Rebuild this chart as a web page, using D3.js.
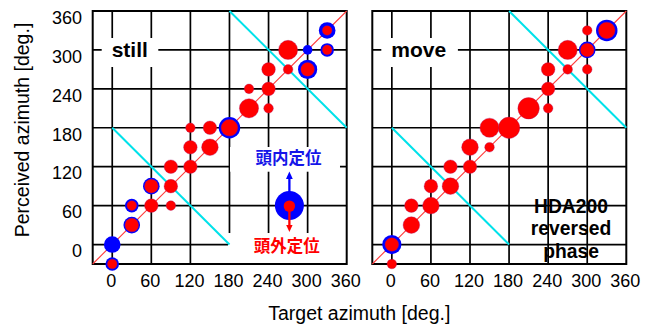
<!DOCTYPE html>
<html>
<head>
<meta charset="utf-8">
<script src="https://cdn.jsdelivr.net/npm/d3@7"></script>
<style>
  html, body { margin: 0; padding: 0; background: #fff; }
  svg { display: block; }
</style>
</head>
<body>
<svg id="chart" width="652" height="329"></svg>
<script>
// ---------- data ----------
// [target azimuth, perceived azimuth, out-of-head count, in-head count]
const stillTarget    = [0, 0, 30, 30, 60, 60, 90, 90, 90, 120, 120, 120, 150, 150, 180, 210, 210, 240, 240, 240, 270, 270, 300, 300, 330, 330];
const stillPerceived = [0, -30, 30, 60, 60, 90, 60, 90, 120, 120, 150, 180, 150, 180, 180, 210, 240, 210, 240, 270, 270, 300, 300, 270, 300, 330];
const stillOut       = [0, 1, 2, 1, 2, 2, 1, 2, 2, 2, 2, 1, 3, 2, 3, 4, 1, 1, 2, 2, 1, 4, 0, 2, 1, 1];
const stillIn        = [3, 1, 1, 1, 0, 1, 0, 0, 0, 0, 0, 0, 0, 0, 2, 0, 0, 0, 0, 0, 0, 0, 1, 2, 1, 2];

const moveTarget     = [0, 0, 30, 30, 60, 60, 90, 90, 120, 120, 150, 150, 180, 210, 240, 240, 240, 270, 270, 300, 300, 300, 330];
const movePerceived  = [0, -30, 30, 60, 60, 90, 90, 120, 120, 150, 150, 180, 180, 210, 210, 240, 270, 270, 300, 270, 300, 330, 330];
const moveOut        = [2, 1, 3, 2, 3, 2, 3, 2, 2, 3, 1, 4, 5, 5, 1, 2, 2, 1, 4, 1, 2, 1, 3];
const moveIn         = [2, 0, 0, 0, 0, 0, 0, 0, 0, 0, 0, 0, 0, 0, 0, 0, 0, 0, 0, 0, 1, 0, 2];

const tickValues = [0, 60, 120, 180, 240, 300, 360];
const gridValues = [0, 60, 120, 180, 240, 300];
const axisDomain = [-30, 360];

const panelNames = ["still", "move"];
const xTitle = "Target azimuth [deg.]";
const yTitle = "Perceived azimuth [deg.]";
const legendIn = "頭内定位";
const legendOut = "頭外定位";
const noteLines = ["HDA200", "reversed", "phase"];

// ---------- layout ----------
const FONT = "'Liberation Sans', Arial, Helvetica, sans-serif";
const CJK = "'Noto Sans CJK JP', 'Noto Sans CJK SC', sans-serif";
const panelW = 254, panelTop = 11, panelBottom = 264;
const panelLefts = [92.7, 372.3];

const svg = d3.select("#chart");
const rScale = d3.scaleSqrt().domain([0, 5]).range([0, 10.73]);

function makePoints(t, p, o, i) {
  return t.map((d, k) => ({ t: d, p: p[k], out: o[k], inn: i[k] }));
}
const datasets = [
  makePoints(stillTarget, stillPerceived, stillOut, stillIn),
  makePoints(moveTarget, movePerceived, moveOut, moveIn)
];

panelLefts.forEach((x0, pi) => {
  const xs = d3.scaleLinear().domain(axisDomain).range([x0, x0 + panelW]);
  const ys = d3.scaleLinear().domain(axisDomain).range([panelBottom, panelTop]);
  const g = svg.append("g");

  // grid
  g.selectAll(".vg").data(gridValues).join("line")
    .attr("x1", d => xs(d)).attr("x2", d => xs(d))
    .attr("y1", ys(360)).attr("y2", ys(-30))
    .attr("stroke", "#000").attr("stroke-width", 1.7);
  g.selectAll(".hg").data(gridValues).join("line")
    .attr("y1", d => ys(d)).attr("y2", d => ys(d))
    .attr("x1", xs(-30)).attr("x2", xs(360))
    .attr("stroke", "#000").attr("stroke-width", 1.7);

  // label boxes
  g.append("rect").attr("x", x0 + 9).attr("y", 38)
    .attr("width", pi === 0 ? 56.6 : 76.6).attr("height", 29).attr("fill", "#fff");

  let lx, ly;
  if (pi === 0) {
    lx = xs(272); ly = ys(60);
    g.append("rect").attr("x", lx - 59.4).attr("y", ly - 58.6)
      .attr("width", 110).attr("height", 24.7).attr("fill", "#fff");
    g.append("rect").attr("x", lx - 61.4).attr("y", ly + 27.4)
      .attr("width", x0 + panelW - (lx - 61.4)).attr("height", panelBottom - (ly + 27.4)).attr("fill", "#fff");
  }

  // frame
  g.append("rect").attr("x", xs(-30)).attr("y", ys(360))
    .attr("width", xs(360) - xs(-30)).attr("height", ys(-30) - ys(360))
    .attr("fill", "none").attr("stroke", "#000").attr("stroke-width", 2);

  // cyan reversal lines
  const cyan = [[[0, 180], [180, 0]], [[180, 360], [360, 180]]];
  g.selectAll(".cy").data(cyan).join("line")
    .attr("x1", d => xs(d[0][0])).attr("y1", d => ys(d[0][1]))
    .attr("x2", d => xs(d[1][0])).attr("y2", d => ys(d[1][1]))
    .attr("stroke", "#00e2ea").attr("stroke-width", 2);

  // red diagonal
  g.append("line")
    .attr("x1", xs(-30)).attr("y1", ys(-30)).attr("x2", xs(360)).attr("y2", ys(360))
    .attr("stroke", "#ff3b3b").attr("stroke-width", 1.1);

  // panel title
  g.append("text").attr("x", x0 + 19).attr("y", 57)
    .attr("font-family", FONT).attr("font-weight", "bold").attr("font-size", 21)
    .text(panelNames[pi]);

  if (pi === 0) {
    // legend
    g.append("circle").attr("cx", lx).attr("cy", ly).attr("r", 14.5).attr("fill", "#0000ff");
    g.append("line").attr("x1", lx).attr("x2", lx).attr("y1", ly - 13).attr("y2", ly - 27)
      .attr("stroke", "#0000ff").attr("stroke-width", 2.3);
    g.append("path").attr("d", `M${lx - 3.4},${ly - 26.5}L${lx + 3.4},${ly - 26.5}L${lx},${ly - 34}Z`)
      .attr("fill", "#0000ff");
    g.append("line").attr("x1", lx).attr("x2", lx).attr("y1", ly).attr("y2", ly + 20)
      .attr("stroke", "#ff0000").attr("stroke-width", 2.3);
    g.append("path").attr("d", `M${lx - 3.2},${ly + 19.5}L${lx + 3.2},${ly + 19.5}L${lx},${ly + 26.5}Z`)
      .attr("fill", "#ff0000");
    g.append("circle").attr("cx", lx).attr("cy", ly + 0.5).attr("r", 5.7).attr("fill", "#ff0000");
    g.append("text").attr("x", lx - 1).attr("y", ly - 42)
      .attr("text-anchor", "middle").attr("font-family", CJK).attr("font-weight", "bold")
      .attr("font-size", 16.5).attr("fill", "#1515e8").text(legendIn);
    g.append("text").attr("x", lx - 2.7).attr("y", ly + 46)
      .attr("text-anchor", "middle").attr("font-family", CJK).attr("font-weight", "bold")
      .attr("font-size", 16.5).attr("fill", "#ff0000").text(legendOut);
  } else {
    const nt = g.append("text").attr("font-family", FONT).attr("font-weight", "bold")
      .attr("font-size", 19.3).attr("text-anchor", "middle");
    noteLines.forEach((s, k) => {
      nt.append("tspan").attr("x", x0 + 198.7).attr("y", 212.7 + k * 22.7).text(s);
    });
  }

  // data points
  const pts = datasets[pi];
  g.selectAll(".blue").data(pts.filter(d => d.inn > 0)).join("circle")
    .attr("cx", d => xs(d.t)).attr("cy", d => ys(d.p))
    .attr("r", d => rScale(d.inn + d.out)).attr("fill", "#0000ff");
  g.selectAll(".red").data(pts.filter(d => d.out > 0)).join("circle")
    .attr("cx", d => xs(d.t)).attr("cy", d => ys(d.p))
    .attr("r", d => rScale(d.out)).attr("fill", "#ff0000")
    .attr("stroke", "#a8106a").attr("stroke-width", 0.5).attr("stroke-opacity", 0.7);

  // x axis
  const xa = svg.append("g").attr("transform", `translate(0,${panelBottom})`)
    .call(d3.axisBottom(xs).tickValues(tickValues).tickSize(0).tickPadding(10.5).tickFormat(d3.format("d")));
  xa.select(".domain").remove();
  xa.selectAll("text").attr("font-family", FONT).attr("font-size", 18).attr("fill", "#000")
    .attr("dx", -1.5);

  if (pi === 0) {
    const ya = svg.append("g").attr("transform", `translate(${x0},0)`)
      .call(d3.axisLeft(ys).tickValues(tickValues).tickSize(0).tickPadding(10.7).tickFormat(d3.format("d")));
    ya.select(".domain").remove();
    ya.selectAll("text").attr("font-family", FONT).attr("font-size", 18).attr("fill", "#000")
      .attr("dy", "0.68em");
  }
});

// axis titles
svg.append("text").attr("x", 359.3).attr("y", 320).attr("text-anchor", "middle")
  .attr("font-family", FONT).attr("font-size", 19.5).text(xTitle);
svg.append("text").attr("transform", "translate(29.3,130) rotate(-90)").attr("text-anchor", "middle")
  .attr("font-family", FONT).attr("font-size", 19.5).text(yTitle);
</script>
</body>
</html>
